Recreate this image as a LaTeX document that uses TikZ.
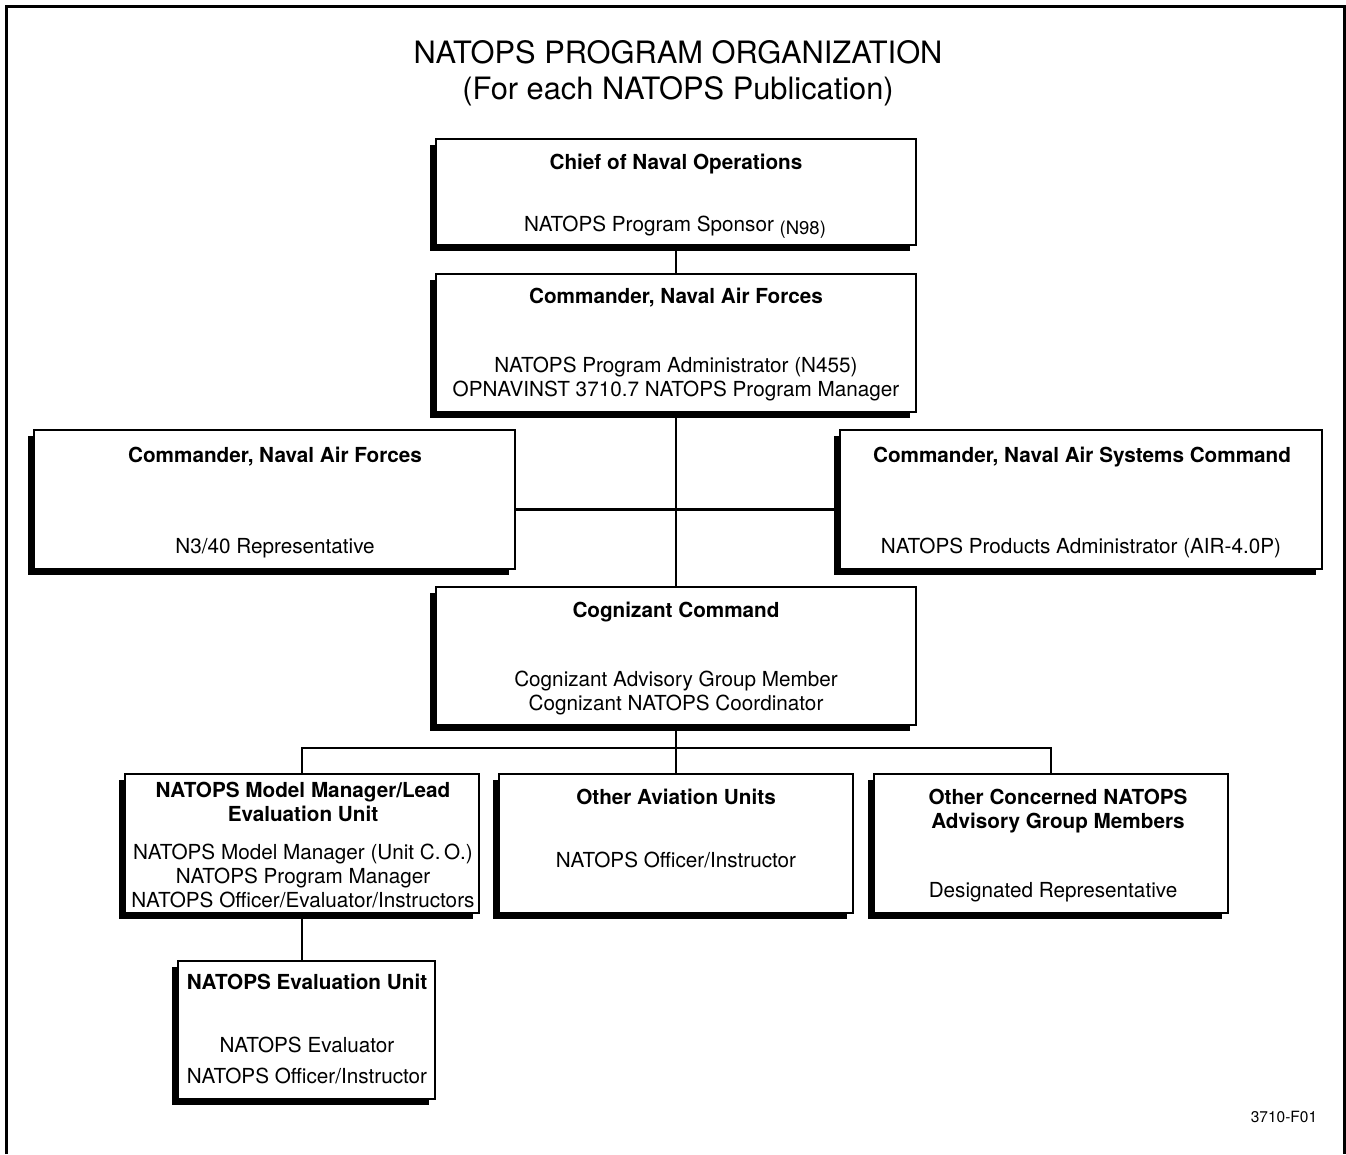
\documentclass[tikz,border=0pt]{standalone}
\usepackage{fontspec}
\setmainfont{TeX Gyre Heros}
\usepackage{tikz}
\usetikzlibrary{shadows}

\newcommand{\boxfont}{\fontsize{20.7}{24}\selectfont}
\newcommand{\titlefont}{\fontsize{30.8}{36}\selectfont}

\begin{document}
\begin{tikzpicture}[x=1pt,y=-1pt]
		\useasboundingbox (0,0) rectangle (1346,1154);
		\draw[line width=3pt] (6,1154) -- (6,6) -- (1344,6) -- (1344,1154);

		\node[anchor=base,font=\titlefont] (title1) at (678,63) {NATOPS PROGRAM ORGANIZATION};
		\node[anchor=base,font=\titlefont] (title2) at (678,99) {(For each NATOPS Publication)};
		\node[anchor=base,font=\fontsize{15.5}{18}\selectfont] (fig) at (1284,1122) {3710-F01};

		\begin{scope}[every node/.style={rectangle,draw,line width=2.5pt,fill=white,inner sep=0pt,
					  drop shadow={shadow xshift=-6pt,shadow yshift=-6pt,fill=black,opacity=1}}]
			\node[minimum width=480pt,minimum height=106pt] (cno) at (676,192) {};
			\node[minimum width=480pt,minimum height=138pt] (cnaf) at (676,343) {};

			\node[minimum width=481pt,minimum height=139pt] (cnafL) at (274.5,499.5) {};
			\node[minimum width=482pt,minimum height=139pt] (navair) at (1081,499.5) {};

			\node[minimum width=480pt,minimum height=138pt] (cog) at (676,656) {};

			\node[minimum width=354pt,minimum height=139pt] (mm) at (302,843.5) {};
			\node[minimum width=354pt,minimum height=139pt] (oau) at (676,843.5) {};
			\node[minimum width=354pt,minimum height=139pt] (ocn) at (1051,843.5) {};

			\node[minimum width=257pt,minimum height=138pt] (eval) at (306.5,1030) {};
		\end{scope}

		\begin{scope}[every node/.style={anchor=base,font=\boxfont,inner sep=0pt}]
			\node[font=\boxfont\bfseries] (cnoH) at (676,169) {Chief of Naval Operations};
			\node (cnoT) at (675,231) {NATOPS Program Sponsor \raisebox{-3pt}{\fontsize{18.5}{18}\selectfont(N98)}};

			\node[font=\boxfont\bfseries] (cnafH) at (676,303) {Commander, Naval Air Forces};
			\node (cnafT1) at (676,372) {NATOPS Program Administrator (N455)};
			\node (cnafT2) at (676,396) {OPNAVINST 3710.7 NATOPS Program Manager};

			\node[font=\boxfont\bfseries] (cnafLH) at (275,462) {Commander, Naval Air Forces};
			\node (cnafLT) at (275,553) {N3/40 Representative};

			\node[font=\boxfont\bfseries] (navairH) at (1082,462) {Commander, Naval Air Systems Command};
			\node (navairT) at (1081,553) {NATOPS Products Administrator (AIR-4.0P)};

			\node[font=\boxfont\bfseries] (cogH) at (676,617) {Cognizant Command};
			\node (cogT1) at (676,686) {Cognizant Advisory Group Member};
			\node (cogT2) at (676,710) {Cognizant NATOPS Coordinator};

			\node[font=\boxfont\bfseries] (mmH1) at (303,797) {NATOPS Model Manager/Lead};
			\node[font=\boxfont\bfseries] (mmH2) at (303,821) {Evaluation Unit};
			\node (mmT1) at (303,859) {NATOPS Model Manager (Unit C.\,O.)};
			\node (mmT2) at (303,883) {NATOPS Program Manager};
			\node (mmT3) at (303,907) {NATOPS Officer/Evaluator/Instructors};

			\node[font=\boxfont\bfseries] (oauH) at (676,804) {Other Aviation Units};
			\node (oauT) at (676,867) {NATOPS Officer/Instructor};

			\node[font=\boxfont\bfseries] (ocnH1) at (1058,804) {Other Concerned NATOPS};
			\node[font=\boxfont\bfseries] (ocnH2) at (1058,828) {Advisory Group Members};
			\node (ocnT) at (1053,897) {Designated Representative};

			\node[font=\boxfont\bfseries] (evalH) at (307,989) {NATOPS Evaluation Unit};
			\node (evalT1) at (307,1052) {NATOPS Evaluator};
			\node (evalT2) at (307,1083) {NATOPS Officer/Instructor};
		\end{scope}

		\begin{scope}[line width=2.5pt]
			\coordinate (bus) at (676,748);
			\draw (cno.south) -- (cnaf.north);
			\draw (cnaf.south) -- (cog.north);
			\draw ([yshift=-10pt]cnafL.east) -- ([yshift=-10pt]navair.west);

			\draw (cog.south) -- (bus);
			\draw (mm.north) -- (mm.north |- bus) -- (ocn.north |- bus) -- (ocn.north);
			\draw (bus) -- (oau.north);

			\draw (mm.south) -- (mm.south |- eval.north);
		\end{scope}
		\end{tikzpicture}
\end{document}
